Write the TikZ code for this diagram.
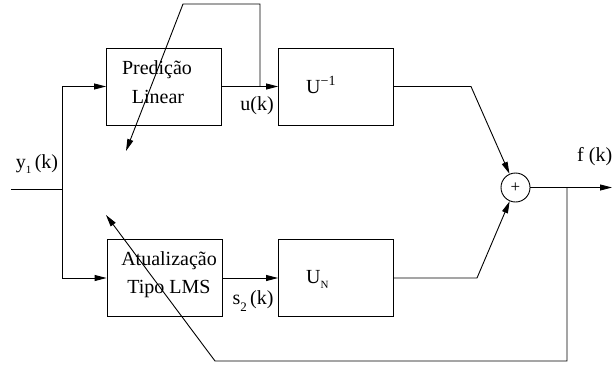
\documentclass[tikz,border=0pt]{standalone}
\usepackage{fontspec}
\setmainfont{Liberation Serif}
\usetikzlibrary{arrows.meta}
\begin{document}
\begin{tikzpicture}[x=1pt,y=-1pt,
  blk/.style={draw,line width=0.9pt,minimum width=115pt,minimum height=77pt,inner sep=0pt},
  lbl/.style={inner sep=0pt,font=\fontsize{20}{23}\selectfont},
  wire/.style={line width=0.9pt},
  arr/.style={line width=0.9pt,-{Triangle[length=12pt,width=6pt]}},
  sumc/.style={draw,circle,line width=0.9pt,minimum size=29pt,inner sep=0pt,font=\fontsize{17}{18}\selectfont}]
\useasboundingbox (0,0) rectangle (612,369);
% blocks
\node[blk] (b1) at (164,86.5) {};
\node[blk] (b2) at (336,86.5) {};
\node[blk] (b3) at (164.5,278) {};
\node[blk] (b4) at (336,278) {};
\node[sumc] (sum) at (515.5,187.5) {+};
% block texts
\node[lbl] (t1a) at (157,70) {Predição};
\node[lbl] (t1b) at (158,97) {Linear};
\node[lbl,anchor=west] (t2) at (306,85) {U\textsuperscript{−1}};
\node[lbl] (t3a) at (169,261) {Atualização};
\node[lbl] (t3b) at (169,289) {Tipo LMS};
\node[lbl,anchor=west] (t4) at (306,279) {U\raisebox{-0.55ex}{\fontsize{11}{12}\selectfont N}};
% signal labels
\node[lbl] (lu) at (257,106) {u(k)};
\node[lbl] (ly) at (37,164) {y\raisebox{-0.5ex}{\fontsize{11}{12}\selectfont 1}\,(k)};
\node[lbl] (ls) at (253,301) {s\raisebox{-0.7ex}{\fontsize{13}{14}\selectfont 2}\,(k)};
\node[lbl,anchor=west] (lf) at (577,157) {f (k)};
% coordinates
\coordinate (in) at (11,189);
\coordinate (j1) at (62,189);
\coordinate (tap1) at (260,86.5);
\coordinate (c1) at (260,4);
\coordinate (c2) at (183,4);
\coordinate (e1) at (126,151);
\coordinate (k1) at (471,86.5);
\coordinate (k2) at (477,278);
\coordinate (out) at (612,187.5);
\coordinate (tap2) at (567,187.5);
\coordinate (c3) at (567,361);
\coordinate (c4) at (215,361);
\coordinate (e2) at (106,215);
% connectors
\draw[wire] (in) -- (j1);
\draw[arr] (j1) |- (b1.west);
\draw[arr] (j1) |- (b3.west);
\draw[arr] (b1.east) -- (b2.west);
\draw[arr] (b3.east) -- (b4.west);
\draw[arr] (tap1) -- (c1) -- (c2) -- (e1);
\draw[arr] (b2.east) -- (k1) -- (sum);
\draw[arr] (b4.east) -- (k2) -- (sum);
\draw[arr] (sum.east) -- (out);
\draw[arr] (tap2) -- (c3) -- (c4) -- (e2);
\end{tikzpicture}
\end{document}
